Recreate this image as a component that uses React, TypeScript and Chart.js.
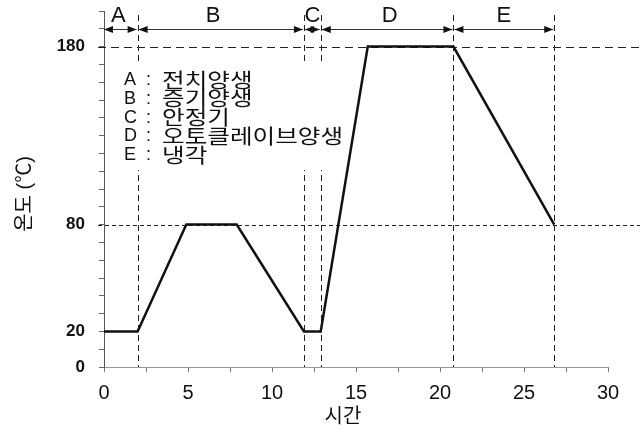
import React, { useEffect, useRef } from "react";
import { Chart, registerables } from "chart.js";

Chart.register(...registerables);

// ---- data ----
const timeH = [0, 2, 4.9, 7.9, 11.9, 12.9, 15.7, 20.8, 26.8];
const tempC = [20, 20, 80, 80, 20, 20, 180, 180, 80];
const phaseBounds = [0, 2, 11.9, 12.9, 20.8, 26.8];
const phaseKeys = ["A", "B", "C", "D", "E"];
const phaseLabelX = [0.85, 6.5, 12.4, 17, 23.8];
const phaseNames = ["전치양생", "증기양생", "안정기", "오토클레이브양생", "냉각"];
const refTemps = [180, 80];
const yLabelValues = [0, 20, 80, 180];
const xTitle = "시간";
const yTitle = "온도 (℃)";

const FONT = 'Arial, "Liberation Sans", "Noto Sans CJK KR", sans-serif';
const KFONT = '"Noto Sans CJK KR", sans-serif';

const annotPlugin = {
  id: "annot",
  beforeDatasetsDraw(chart: any) {
    const { ctx, chartArea, scales } = chart;
    const xs = scales.x;
    const ys = scales.y;
    ctx.save();
    ctx.strokeStyle = "#222";
    ctx.lineWidth = 1;
    // horizontal reference lines
    refTemps.forEach((t, i) => {
      const y = Math.round(ys.getPixelForValue(t)) + 0.5;
      ctx.setLineDash(i === 0 ? [8, 5] : [4, 3]);
      ctx.beginPath();
      ctx.moveTo(chartArea.left - 6, y);
      ctx.lineTo(640, y);
      ctx.stroke();
    });
    // vertical phase boundaries
    ctx.setLineDash([6, 4]);
    phaseBounds.slice(1).forEach((b) => {
      const x = Math.round(xs.getPixelForValue(b)) + 0.5;
      ctx.beginPath();
      ctx.moveTo(x, 15);
      ctx.lineTo(x, chartArea.bottom);
      ctx.stroke();
    });
    // legend box background (hides dashes behind the legend)
    ctx.setLineDash([]);
    ctx.fillStyle = "#fff";
    ctx.fillRect(113, 62, 232, 108);
    ctx.restore();
  },
  afterDatasetsDraw(chart: any) {
    const { ctx, scales } = chart;
    const xs = scales.x;
    ctx.save();
    ctx.fillStyle = "#111";
    ctx.textBaseline = "middle";
    ctx.textAlign = "left";
    phaseKeys.forEach((k, i) => {
      const y = 80 + i * 18.8;
      ctx.font = `18px ${FONT}`;
      ctx.fillText(k, 124, y);
      ctx.fillText(":", 146, y);
      ctx.save();
      ctx.translate(162, y);
      ctx.scale(1.23, 1);
      ctx.font = `20px ${KFONT}`;
      ctx.fillText(phaseNames[i], 0, 0);
      ctx.restore();
    });
    // top arrows
    const ay = 29.5;
    ctx.strokeStyle = "#333";
    ctx.fillStyle = "#111";
    ctx.lineWidth = 1;
    const head = (x: number, dir: number) => {
      ctx.beginPath();
      ctx.moveTo(x, ay);
      ctx.lineTo(x - dir * 9, ay - 3.5);
      ctx.lineTo(x - dir * 9, ay + 3.5);
      ctx.closePath();
      ctx.fill();
    };
    for (let i = 0; i < phaseKeys.length; i++) {
      const x1 = xs.getPixelForValue(phaseBounds[i]) + (i === 0 ? 0 : 1);
      const x2 = xs.getPixelForValue(phaseBounds[i + 1]) - 1;
      ctx.beginPath();
      ctx.moveTo(x1, ay);
      ctx.lineTo(x2, ay);
      ctx.stroke();
      head(x1, -1);
      head(x2, 1);
    }
    ctx.font = `22px ${FONT}`;
    ctx.textAlign = "center";
    phaseKeys.forEach((k, i) => {
      ctx.fillText(k, xs.getPixelForValue(phaseLabelX[i]), 16);
    });
    // axis titles
    ctx.font = `20px ${FONT}`;
    ctx.fillText(xTitle, 343, 417);
    ctx.translate(25, 194);
    ctx.rotate(-Math.PI / 2);
    ctx.fillText(yTitle, 0, 0);
    ctx.restore();
  },
};

export default function App() {
  const ref = useRef<HTMLCanvasElement | null>(null);
  useEffect(() => {
    if (!ref.current) return;
    const chart = new Chart(ref.current, {
      type: "line",
      data: {
        datasets: [
          {
            data: timeH.map((t, i) => ({ x: t, y: tempC[i] })),
            borderColor: "#111",
            borderWidth: 2.5,
            pointRadius: 0,
            tension: 0,
            fill: false,
          },
        ],
      },
      options: {
        responsive: false,
        animation: false,
        layout: { padding: { top: 11, right: 35, left: 0, bottom: 0 } },
        plugins: { legend: { display: false }, tooltip: { enabled: false } },
        scales: {
          x: {
            type: "linear",
            min: 0,
            max: 30,
            afterFit: (s: any) => {
              s.height = 68;
              s.paddingLeft = 0;
              s.paddingRight = 0;
            },
            border: { display: true, color: "#999", width: 1 },
            grid: { drawOnChartArea: false, drawTicks: true, tickLength: 5, color: "#777" },
            ticks: {
              stepSize: 2.5,
              autoSkip: false,
              maxRotation: 0,
              padding: 9,
              color: "#111",
              font: { family: FONT, size: 20 },
              callback: (v: any) => (Number(v) % 5 === 0 ? String(v) : ""),
            },
          },
          y: {
            type: "linear",
            min: 0,
            max: 200,
            afterFit: (s: any) => {
              s.width = 104;
              s.paddingTop = 0;
              s.paddingBottom = 0;
            },
            border: { display: true, color: "#555", width: 1 },
            grid: { drawOnChartArea: false, drawTicks: true, tickLength: 5, color: "#666" },
            ticks: {
              stepSize: 10,
              autoSkip: false,
              padding: 14,
              color: "#111",
              font: { family: FONT, size: 17, weight: "bold" },
              callback: (v: any) => (yLabelValues.includes(Number(v)) ? String(v) : ""),
            },
          },
        },
      },
      plugins: [annotPlugin],
    } as any);
    return () => chart.destroy();
  }, []);
  return (
    <div style={{ position: "fixed", left: 0, top: 0, width: 643, height: 435, background: "#fff" }}>
      <canvas ref={ref} width={643} height={435} style={{ display: "block", width: 643, height: 435 }} />
    </div>
  );
}
